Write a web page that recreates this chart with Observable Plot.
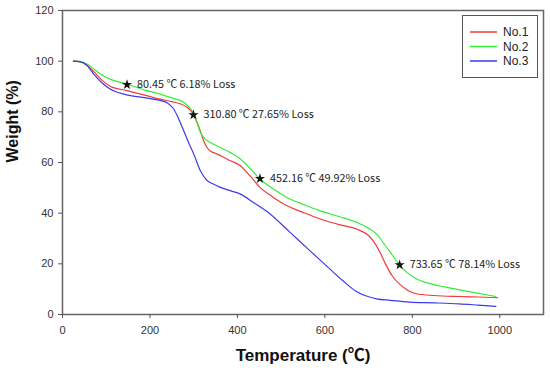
<!DOCTYPE html>
<html>
<head>
<meta charset="utf-8">
<script src="https://cdn.jsdelivr.net/npm/d3@7"></script>
<script src="https://cdn.jsdelivr.net/npm/@observablehq/plot@0.6"></script>
<style>
  html, body { margin: 0; padding: 0; background: #fff; }
  #wrap { position: relative; width: 550px; height: 373px; }
  #legend { position: absolute; left: 462px; top: 15px; width: 76px; height: 63px; border: 1.5px solid #555; background: #fff; box-sizing: border-box; }
</style>
</head>
<body>
<div id="wrap"><div id="legend"></div></div>
<script>
const seriesNames = ["No.1", "No.2", "No.3"];
const seriesColors = ["#ee3b3b", "#33ee33", "#3b3bee"];

const tempNo1 = [25, 40, 55, 71, 90, 110, 147, 190, 223, 250, 269, 285, 296, 306, 315, 322, 330, 340, 353, 380, 406, 430, 451, 480, 512, 550, 588, 630, 680, 700, 710, 725, 740, 755, 771, 790, 809, 850, 907, 950, 995];
const weightNo1 = [100, 99.7, 98.5, 96, 92.5, 90, 88.4, 86.5, 85, 84, 83.2, 81.8, 79.9, 76.5, 72.6, 69, 66, 64.3, 63.4, 61, 58.8, 54.5, 50.3, 46.5, 43, 40.3, 37.8, 35.6, 33.2, 31.2, 29.2, 25, 19.5, 15, 12, 9.5, 8.2, 7.5, 7.1, 6.9, 6.6];

const tempNo2 = [25, 40, 55, 71, 90, 110, 147, 190, 223, 250, 277, 290, 300, 308, 315, 325, 337, 360, 385, 406, 430, 451, 480, 512, 550, 588, 630, 680, 700, 718, 735, 748, 763, 785, 809, 840, 877, 930, 991];
const weightNo2 = [100, 99.8, 99, 97, 94.5, 92.8, 91, 88.5, 87, 85.5, 83.8, 81.8, 79.2, 75.5, 72, 69.5, 68, 66, 63.8, 61.5, 57.5, 53.6, 49.8, 46.3, 43.5, 41, 38.8, 35.8, 34, 31.8, 28, 25, 21.3, 17, 14.1, 12.2, 10.8, 9, 7.1];

const tempNo3 = [25, 40, 55, 71, 90, 109, 147, 190, 223, 240, 254, 265, 277, 288, 300, 315, 330, 345, 360, 385, 406, 440, 474, 520, 565, 600, 640, 670, 700, 718, 750, 794, 850, 907, 950, 991];
const weightNo3 = [100, 99.8, 98.5, 95, 91.5, 89, 86.7, 85.5, 84.5, 83.5, 81.2, 77.5, 72.6, 68, 63.4, 56.8, 53, 51.5, 50.3, 48.8, 47.6, 43.8, 39.8, 32.5, 25.3, 19.8, 13.5, 9.3, 7, 6.2, 5.6, 4.9, 4.6, 4.2, 3.7, 3.2];

const noteTemp = [147.5, 299.5, 451.5, 771];
const noteWeight = [90.7, 78.8, 53.6, 19.6];
const noteText = ["80.45 ℃ 6.18% Loss", "310.80 ℃ 27.65% Loss", "452.16 ℃ 49.92% Loss", "733.65 ℃ 78.14% Loss"];

const xTicks = [0, 200, 400, 600, 800, 1000];
const yTicks = [0, 20, 40, 60, 80, 100, 120];

const temps = [tempNo1, tempNo2, tempNo3];
const weights = [weightNo1, weightNo2, weightNo3];
const rows = [];
seriesNames.forEach((s, i) => temps[i].forEach((t, j) => rows.push({series: s, t, w: weights[i][j]})));
const notes = noteTemp.map((t, i) => ({t, w: noteWeight[i], label: noteText[i]}));

const chart = Plot.plot({
  width: 550,
  height: 373,
  marginLeft: 62,
  marginRight: 7,
  marginTop: 10,
  marginBottom: 59,
  style: {fontFamily: "'Liberation Sans', Arial, 'Noto Sans CJK SC', sans-serif", background: "#fff"},
  x: {domain: [0, 1100]},
  y: {domain: [0, 120]},
  color: {domain: seriesNames, range: seriesColors},
  marks: [
    Plot.frame({stroke: "#666", strokeWidth: 1.5}),
    Plot.axisX({ticks: xTicks, tickFormat: d3.format("d"), tickSize: 4, tickPadding: 8, fontSize: 11, color: "#333", label: null, stroke: "#555"}),
    Plot.axisY({ticks: yTicks, tickFormat: d3.format("d"), tickSize: 4, tickPadding: 5, fontSize: 11, color: "#333", label: null, stroke: "#555"}),
    Plot.line(rows, {x: "t", y: "w", z: "series", stroke: "series", strokeWidth: 1.2, curve: "monotone-x"}),
    Plot.dot(notes, {x: "t", y: "w", symbol: "star", r: 3.2, fill: "#111", stroke: "none"}),
    Plot.text(notes, {x: "t", y: "w", text: "label", textAnchor: "start", dx: 10, fontSize: 10.8, fill: "#222", fontFamily: "'Noto Sans CJK SC', 'Open Sans', sans-serif"}),
    Plot.text(["Temperature (℃)"], {frameAnchor: "bottom", dy: 46, fontSize: 17, fontWeight: "bold", fill: "#111", fontFamily: "'Liberation Sans', Arial, 'Noto Sans CJK SC', sans-serif"}),
    Plot.text(["Weight (%)"], {frameAnchor: "left", dx: -50, rotate: -90, fontSize: 16, fontWeight: "bold", fill: "#111"})
  ]
});
document.getElementById("wrap").prepend(chart);

// legend built from series arrays
const lg = d3.select("#legend").append("svg").attr("width", 74).attr("height", 61);
seriesNames.forEach((s, i) => {
  const y = 16 + i * 14.5;
  lg.append("line").attr("x1", 7).attr("x2", 34).attr("y1", y).attr("y2", y)
    .attr("stroke", seriesColors[i]).attr("stroke-width", 1.5);
  lg.append("text").attr("x", 40).attr("y", y).attr("dy", "0.35em")
    .attr("font-family", "'Liberation Sans', Arial, sans-serif").attr("font-size", 12).attr("fill", "#222").text(s);
});
</script>
</body>
</html>
